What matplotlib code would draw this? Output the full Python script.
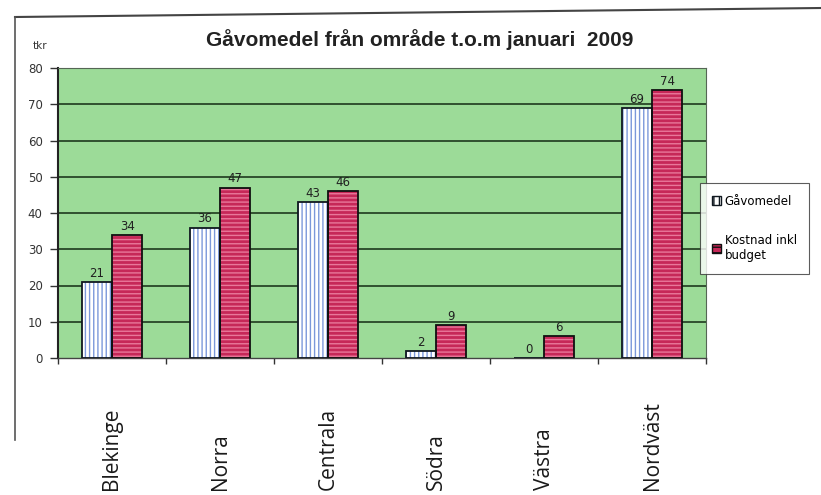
import matplotlib
matplotlib.use("Agg")
import matplotlib.pyplot as plt
from matplotlib.patches import Patch
from matplotlib.lines import Line2D
import matplotlib.transforms as mtrans
import numpy as np

categories = ["Blekinge", "Norra", "Centrala", "Södra", "Västra", "Nordväst"]
gavomedel = [21, 36, 43, 2, 0, 69]
kostnad = [34, 47, 46, 9, 6, 74]
series_names = ["Gåvomedel", "Kostnad inkl\nbudget"]
yticks = [0, 10, 20, 30, 40, 50, 60, 70, 80]
title = "Gåvomedel från område t.o.m januari  2009"
unit = "tkr"

plt.rcParams['hatch.linewidth'] = 1.0
fig = plt.figure(figsize=(8.21, 4.95), dpi=100)
ax = fig.add_axes([58/821, 1-358/495, 648/821, 290/495])
ax.set_facecolor("#9CDB98")

x = np.arange(len(categories))
w = 0.28
blue_face = "#FFFFFF"
blue_hatch = "#7B98DA"
red_face = "#C62858"
red_hatch = "#E8789A"

# grid
for t in yticks[1:]:
    ax.axhline(t, color="#1E3A1E", lw=1.2, zorder=1)

ax.bar(x - w/2, gavomedel, w, color=blue_face, hatch="||||", edgecolor=blue_hatch, lw=0, zorder=2)
ax.bar(x - w/2, gavomedel, w, fill=False, edgecolor="#101820", lw=1.3, zorder=3)
ax.bar(x + w/2, kostnad, w, color=red_face, hatch="----", edgecolor=red_hatch, lw=0, zorder=2)
ax.bar(x + w/2, kostnad, w, fill=False, edgecolor="#101010", lw=1.3, zorder=3)

for xi, v in zip(x - w/2, gavomedel):
    ax.text(xi, v + 0.6, str(v), ha="center", va="bottom", fontsize=8.5, color="#202020", zorder=4)
for xi, v in zip(x + w/2, kostnad):
    ax.text(xi, v + 0.6, str(v), ha="center", va="bottom", fontsize=8.5, color="#202020", zorder=4)

ax.set_xlim(-0.5, len(categories) - 0.5)
ax.set_ylim(0, 80)
ax.set_yticks(yticks)
ax.set_yticklabels([str(t) for t in yticks], fontsize=8.5, color="#333333")
ax.tick_params(axis="y", length=6, width=1, color="#333333", pad=5)
ax.set_xticks(np.arange(len(categories) + 1) - 0.5)
ax.set_xticklabels([])
ax.tick_params(axis="x", length=4, width=1, color="#333333", direction="out")
for s in ["top", "right"]:
    ax.spines[s].set_color("#556655")
    ax.spines[s].set_linewidth(0.8)
ax.spines["left"].set_color("#222222")
ax.spines["left"].set_linewidth(1.5)
ax.spines["bottom"].set_color("#444444")
ax.spines["bottom"].set_linewidth(1.0)

# category labels, rotated, bottom-aligned
trans = mtrans.blended_transform_factory(ax.transData, fig.transFigure)
for xi, c in zip(x, categories):
    ax.text(xi, 5/495, c, rotation=90, ha="center", va="bottom", fontsize=15,
            family="Open Sans", color="#1A1A1A", transform=trans, clip_on=False)

fig.text(420/821, 1-40/495, title, ha="center", va="center", fontsize=15, fontweight="bold",
         family="Liberation Sans", color="#222222")
fig.text(40/821, 1-46/495, unit, ha="center", va="center", fontsize=7.5, color="#333333")

handles = [Patch(facecolor=blue_face, edgecolor="#101820", hatch="|||"),
           Patch(facecolor=red_face, edgecolor="#101010", hatch="---")]
leg = fig.legend(handles, series_names, loc="upper left",
                 bbox_to_anchor=(700/821, 1-183/495), fontsize=8.5, frameon=True,
                 fancybox=False, edgecolor="#333333", labelspacing=2.2,
                 handlelength=0.8, handleheight=0.8, handletextpad=0.3,
                 borderpad=1.0, borderaxespad=0)
leg.get_frame().set_linewidth(0.8)

# scanned figure border
fig.add_artist(Line2D([15/821, 1.0], [1-17/495, 1-8/495], color="#444444", lw=1.5))
fig.add_artist(Line2D([15/821, 15/821], [1-17/495, 1-440/495], color="#555555", lw=1.2))

fig.savefig("out.png", dpi=100)
